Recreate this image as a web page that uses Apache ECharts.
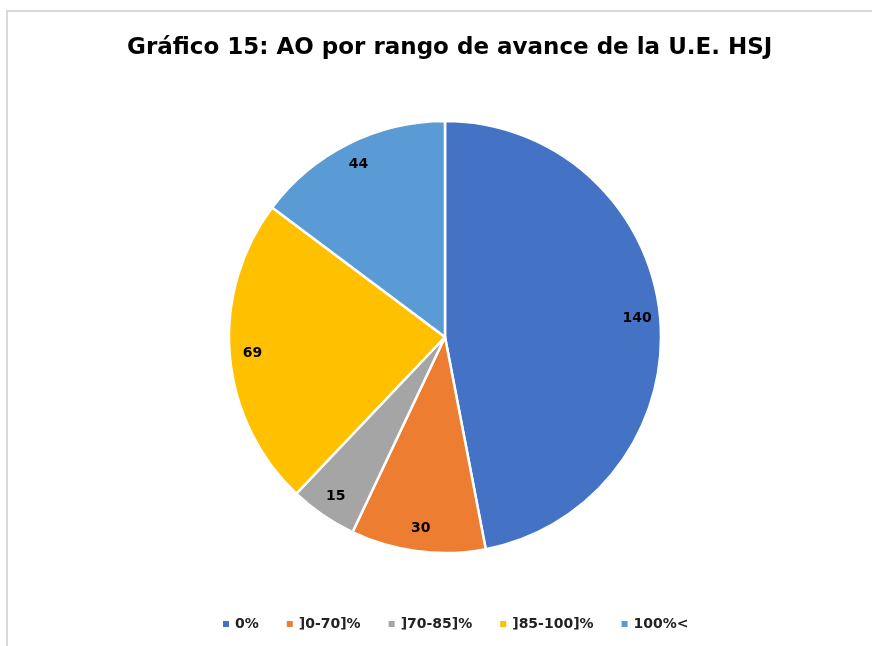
<!DOCTYPE html>
<html>
<head>
<meta charset="utf-8">
<script src="https://cdn.jsdelivr.net/npm/echarts@6/dist/echarts.min.js"></script>
<style>html,body{margin:0;padding:0;background:#fff;}#c{width:872px;height:646px;}</style>
</head>
<body>
<div id="c"></div>
<script>
const titleText = 'Gráfico 15: AO por rango de avance de la U.E. HSJ';
const categories = ['0%', ']0-70]%', ']70-85]%', ']85-100]%', '100%<'];
const values = [140, 30, 15, 69, 44];
const colors = ['#4472C4', '#ED7D31', '#A5A5A5', '#FFC000', '#5B9BD5'];

const data = categories.map((n, i) => ({ name: n, value: values[i] }));
const chart = echarts.init(document.getElementById('c'));
const center = [445, 337];
const R = 216;
chart.setOption({
  animation: false,
  color: colors,
  title: {
    text: titleText, left: 122, top: 32,
    textStyle: { fontFamily: 'DejaVu Sans', fontWeight: 'bold', fontSize: 23, color: '#000' }
  },
  legend: {
    bottom: 10, left: 216, icon: 'rect', itemWidth: 8, itemHeight: 8, itemGap: 26,
    textStyle: { fontFamily: 'DejaVu Sans', fontWeight: 'bold', fontSize: 14, color: '#222' },
    data: categories
  },
  graphic: [{
    type: 'rect', shape: { x: 7, y: 11, width: 900, height: 700 },
    style: { fill: 'none', stroke: '#d9d9d9', lineWidth: 2 }, silent: true
  }],
  series: [{
    type: 'pie', center: center, radius: [0, R], startAngle: 90, clockwise: true,
    itemStyle: { borderColor: '#fff', borderWidth: 2.5 },
    label: { show: false }, labelLine: { show: false }, emphasis: { disabled: true },
    data: data
  }, {
    type: 'pie', center: center, radius: [R * 0.76, R], startAngle: 90, clockwise: true,
    silent: true, itemStyle: { color: 'rgba(0,0,0,0)', borderWidth: 0 },
    label: { show: true, position: 'inside', formatter: '{c}', fontFamily: 'DejaVu Sans', fontWeight: 'bold', fontSize: 14, color: '#000' },
    labelLine: { show: false }, emphasis: { disabled: true },
    data: data
  }]
});
</script>
</body>
</html>
